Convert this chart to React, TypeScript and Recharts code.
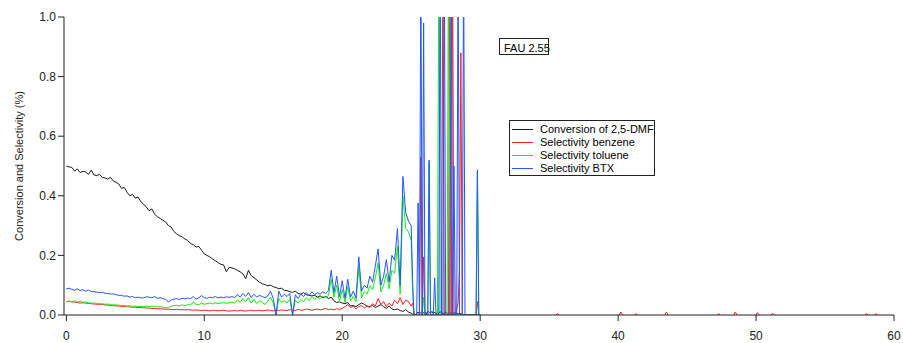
import { LineChart, Line, XAxis, YAxis } from 'recharts';

// sampling: every 0.2 up to 24.8, then every 0.1 from 25.0 to 30.0
const COARSE_STEP = 0.2;
const FINE_START = 25;
const FINE_STEP = 0.1;

const conversionCoarse = [
  0.500, 0.497, 0.495, 0.483, 0.490, 0.478, 0.482, 0.480, 0.472, 0.486,
  0.470, 0.468, 0.472, 0.462, 0.460, 0.456, 0.462, 0.450, 0.445, 0.440,
  0.425, 0.428, 0.412, 0.400, 0.405, 0.392, 0.396, 0.380, 0.372, 0.362,
  0.350, 0.356, 0.338, 0.330, 0.324, 0.318, 0.312, 0.300, 0.295, 0.280,
  0.272, 0.266, 0.262, 0.255, 0.250, 0.240, 0.236, 0.228, 0.230, 0.218,
  0.205, 0.200, 0.195, 0.188, 0.182, 0.176, 0.170, 0.168, 0.145, 0.160,
  0.158, 0.155, 0.150, 0.145, 0.138, 0.122, 0.150, 0.132, 0.125, 0.118,
  0.110, 0.105, 0.102, 0.098, 0.100, 0.095, 0.092, 0.088, 0.090, 0.083,
  0.082, 0.078, 0.076, 0.080, 0.072, 0.070, 0.075, 0.068, 0.066, 0.064,
  0.066, 0.060, 0.064, 0.058, 0.062, 0.055, 0.060, 0.048, 0.042, 0.044,
  0.040, 0.038, 0.042, 0.030, 0.032, 0.028, 0.035, 0.040, 0.036, 0.030,
  0.028, 0.032, 0.025, 0.030, 0.035, 0.028, 0.022, 0.030, 0.020, 0.018,
  0.020, 0.015, 0.012, 0.018, 0.010,
];
const conversionFine = [
  0.006, 0.003, 0.002, 0.000, 0.004, 0.010, 0.004, 0.008, 0.012, 0.006,
  0.010, 0.004, 0.014, 0.008, 0.006, 0.012, 0.005, 0.010, 0.004, 0.008,
  0.006, 0.012, 0.004, 0.008, 0.003, 0.010, 0.006, 0.004, 0.009, 0.005,
  0.008, 0.004, 0.010, 0.006, 0.003, 0.006, 0.004, 0.002, 0.000, 0.000,
  0, 0, 0, 0, 0, 0, 0, 0, 0, 0,
  0,
];

const benzeneCoarse = [
  0.045, 0.046, 0.044, 0.043, 0.042, 0.040, 0.041, 0.040, 0.039, 0.038,
  0.037, 0.036, 0.036, 0.035, 0.034, 0.033, 0.032, 0.031, 0.031, 0.030,
  0.029, 0.028, 0.028, 0.027, 0.026, 0.026, 0.025, 0.025, 0.024, 0.024,
  0.023, 0.022, 0.022, 0.021, 0.021, 0.020, 0.020, 0.019, 0.019, 0.018,
  0.019, 0.018, 0.018, 0.017, 0.018, 0.017, 0.016, 0.017, 0.016, 0.015,
  0.016, 0.015, 0.014, 0.016, 0.015, 0.014, 0.015, 0.016, 0.014, 0.013,
  0.014, 0.015, 0.013, 0.016, 0.014, 0.013, 0.015, 0.016, 0.014, 0.015,
  0.016, 0.014, 0.015, 0.017, 0.015, 0.014, 0.016, 0.015, 0.017, 0.016,
  0.015, 0.018, 0.016, 0.015, 0.019, 0.016, 0.017, 0.020, 0.018, 0.016,
  0.018, 0.020, 0.017, 0.019, 0.022, 0.018, 0.020, 0.017, 0.021, 0.019,
  0.022, 0.028, 0.035, 0.025, 0.030, 0.020, 0.028, 0.032, 0.024, 0.030,
  0.026, 0.038, 0.030, 0.055, 0.035, 0.045, 0.028, 0.040, 0.030, 0.050,
  0.038, 0.058, 0.035, 0.050, 0.045,
];
const benzeneFine = [
  0.030, 0.040, 0.010, 0.000, 0.000, 0.000, 0.000, 0.530, 0.000, 0.195,
  0.000, 0.000, 0.000, 0.000, 0.000, 0.000, 0.000, 0.000, 0.000, 0.000,
  0.000, 0.000, 0.000, 1.200, 0.000, 0.000, 0.000, 0.000, 1.200, 0.000,
  1.200, 0.000, 0.000, 0.020, 0.040, 0.150, 0.880, 0.000, 0.000, 0.000,
  0, 0, 0, 0, 0, 0, 0, 0, 0.045, 0,
  0,
];
// tiny benzene blips after the run has ended
const benzeneBlipTimes = [35.6, 40.2, 41.3, 43.5, 47.3, 48.5, 50.1, 51.2, 58.0, 58.7];
const benzeneBlipValues = [0.005, 0.010, 0.004, 0.010, 0.004, 0.010, 0.008, 0.006, 0.005, 0.004];

const tolueneCoarse = [
  0.044, 0.046, 0.045, 0.048, 0.043, 0.046, 0.042, 0.044, 0.041, 0.040,
  0.040, 0.039, 0.038, 0.038, 0.036, 0.037, 0.035, 0.034, 0.034, 0.033,
  0.032, 0.032, 0.030, 0.031, 0.029, 0.030, 0.028, 0.029, 0.028, 0.030,
  0.028, 0.030, 0.029, 0.027, 0.028, 0.026, 0.025, 0.024, 0.030, 0.031,
  0.032, 0.030, 0.034, 0.031, 0.035, 0.033, 0.044, 0.036, 0.034, 0.040,
  0.036, 0.038, 0.040, 0.037, 0.041, 0.038, 0.040, 0.042, 0.039, 0.041,
  0.043, 0.040, 0.050, 0.042, 0.055, 0.045, 0.058, 0.040, 0.052, 0.038,
  0.048, 0.042, 0.035, 0.046, 0.060, 0.040, 0.000, 0.055, 0.042, 0.048,
  0.040, 0.052, 0.000, 0.050, 0.040, 0.052, 0.045, 0.058, 0.048, 0.062,
  0.052, 0.060, 0.055, 0.062, 0.058, 0.065, 0.120, 0.060, 0.100, 0.045,
  0.085, 0.042, 0.095, 0.048, 0.062, 0.045, 0.160, 0.058, 0.078, 0.070,
  0.098, 0.085, 0.125, 0.175, 0.078, 0.100, 0.140, 0.088, 0.150, 0.140,
  0.230, 0.070, 0.400, 0.290, 0.280,
];
const tolueneFine = [
  0.250, 0.080, 0.000, 0.000, 0.000, 0.000, 0.000, 0.000, 0.000, 0.060,
  0.000, 0.000, 0.000, 0.510, 0.000, 0.000, 0.000, 0.000, 0.000, 0.000,
  1.200, 0.000, 0.000, 0.000, 0.000, 0.000, 0.000, 1.200, 0.000, 0.000,
  0, 0, 0, 0, 0, 0, 0, 0, 0, 0,
  0, 0, 0, 0, 0, 0, 0, 0, 0.480, 0,
  0,
];

const btxCoarse = [
  0.088, 0.090, 0.086, 0.083, 0.088, 0.082, 0.085, 0.080, 0.084, 0.079,
  0.078, 0.077, 0.075, 0.076, 0.073, 0.072, 0.070, 0.071, 0.068, 0.066,
  0.066, 0.063, 0.064, 0.060, 0.062, 0.058, 0.060, 0.057, 0.058, 0.061,
  0.060, 0.058, 0.062, 0.056, 0.058, 0.055, 0.052, 0.044, 0.050, 0.053,
  0.055, 0.052, 0.056, 0.054, 0.057, 0.055, 0.062, 0.053, 0.058, 0.065,
  0.058, 0.056, 0.060, 0.058, 0.062, 0.057, 0.060, 0.058, 0.061, 0.059,
  0.062, 0.058, 0.068, 0.060, 0.072, 0.062, 0.075, 0.058, 0.070, 0.060,
  0.066, 0.062, 0.058, 0.064, 0.080, 0.055, 0.000, 0.080, 0.060, 0.070,
  0.062, 0.072, 0.000, 0.068, 0.055, 0.070, 0.062, 0.075, 0.065, 0.078,
  0.068, 0.075, 0.070, 0.078, 0.072, 0.082, 0.150, 0.075, 0.130, 0.062,
  0.115, 0.056, 0.120, 0.060, 0.080, 0.056, 0.195, 0.080, 0.100, 0.090,
  0.130, 0.110, 0.165, 0.222, 0.100, 0.130, 0.186, 0.110, 0.200, 0.184,
  0.290, 0.100, 0.465, 0.345, 0.315,
];
const btxFine = [
  0.300, 0.120, 0.000, 0.000, 0.000, 0.376, 0.000, 1.200, 0.000, 0.980,
  0.000, 0.000, 0.000, 0.520, 0.000, 0.000, 0.000, 0.125, 0.000, 0.000,
  0.000, 1.200, 0.000, 0.000, 1.200, 0.000, 0.000, 0.000, 0.000, 1.200,
  0.000, 0.500, 0.000, 0.000, 1.200, 0.000, 0.000, 0.000, 1.200, 0.000,
  0, 0, 0, 0, 0, 0, 0, 0, 0.487, 0,
  0,
];

const xTicks = [0, 10, 20, 30, 40, 50, 60];
const yTicks = [0, 0.2, 0.4, 0.6, 0.8, 1.0];

const COLORS = {
  conversion: '#1a1a1a',
  benzene: '#ff1f1f',
  toluene: '#12ee12',
  btx: '#2255ff',
};

const legendItems = [
  { label: 'Conversion of 2,5-DMF', color: COLORS.conversion },
  { label: 'Selectivity benzene', color: COLORS.benzene },
  { label: 'Selectivity toluene', color: COLORS.toluene },
  { label: 'Selectivity BTX', color: COLORS.btx },
];

type Row = {
  t: number;
  conversion?: number | null;
  benzene?: number | null;
  toluene?: number | null;
  btx?: number | null;
};

function buildRows(): Row[] {
  const rows: Row[] = [];
  conversionCoarse.forEach((v, i) => {
    rows.push({
      t: +(i * COARSE_STEP).toFixed(2),
      conversion: v,
      benzene: benzeneCoarse[i],
      toluene: tolueneCoarse[i],
      btx: btxCoarse[i],
    });
  });
  conversionFine.forEach((v, i) => {
    rows.push({
      t: +(FINE_START + i * FINE_STEP).toFixed(2),
      conversion: v,
      benzene: benzeneFine[i],
      toluene: tolueneFine[i],
      btx: btxFine[i],
    });
  });
  benzeneBlipTimes.forEach((bt, i) => {
    rows.push({ t: bt - 0.3, benzene: null });
    rows.push({ t: bt - 0.12, benzene: 0 });
    rows.push({ t: bt, benzene: benzeneBlipValues[i] });
    rows.push({ t: bt + 0.12, benzene: 0 });
  });
  return rows;
}

const data = buildRows();

const tickStyle = { fill: '#222', fontSize: 12, fontFamily: '"Liberation Sans", Arial, sans-serif' };

export default function App() {
  return (
    <div style={{ position: 'absolute', left: 0, top: 0, width: 903, height: 343, background: '#fff' }}>
      <LineChart
        width={903}
        height={343}
        data={data}
        margin={{ top: 17, right: 9, left: 0, bottom: 0 }}
      >
        <XAxis
          dataKey="t"
          type="number"
          domain={[-0.17, 60]}
          allowDataOverflow
          ticks={xTicks}
          tick={tickStyle}
          tickSize={6}
          tickMargin={10}
          height={28}
          axisLine={{ stroke: '#222' }}
          tickLine={{ stroke: '#222' }}
        />
        <YAxis
          type="number"
          domain={[0, 1]}
          allowDataOverflow
          ticks={yTicks}
          tick={tickStyle}
          tickFormatter={(v: number) => v.toFixed(1)}
          tickSize={6}
          tickMargin={2}
          width={64}
          axisLine={{ stroke: '#222' }}
          tickLine={{ stroke: '#222' }}
        />
        <Line dataKey="conversion" stroke={COLORS.conversion} strokeWidth={1} dot={false} isAnimationActive={false} />
        <Line dataKey="benzene" stroke={COLORS.benzene} strokeWidth={1} dot={false} isAnimationActive={false} />
        <Line dataKey="toluene" stroke={COLORS.toluene} strokeWidth={1} dot={false} isAnimationActive={false} />
        <Line dataKey="btx" stroke={COLORS.btx} strokeWidth={1} dot={false} isAnimationActive={false} />
      </LineChart>

      {/* y axis title */}
      <svg width={40} height={343} style={{ position: 'absolute', left: 0, top: 0 }}>
        <text
          x={18.5}
          y={166}
          transform="rotate(-90, 18.5, 166)"
          textAnchor="middle"
          dominantBaseline="central"
          fontSize={11}
          fontFamily='"Liberation Sans", Arial, sans-serif'
          fill="#222"
        >
          Conversion and Selectivity (%)
        </text>
      </svg>

      {/* sample tag */}
      <div
        style={{
          position: 'absolute',
          left: 499,
          top: 38,
          width: 50,
          height: 17,
          boxSizing: 'border-box',
          border: '1px solid #222',
          paddingLeft: 4,
          paddingTop: 3,
          fontSize: 11,
          lineHeight: '12px',
          fontFamily: '"Liberation Sans", Arial, sans-serif',
          whiteSpace: 'nowrap',
          color: '#000',
        }}
      >
        FAU 2.55
      </div>

      {/* legend */}
      <div
        style={{
          position: 'absolute',
          left: 509,
          top: 120,
          width: 146,
          height: 56,
          boxSizing: 'border-box',
          border: '1px solid #222',
          background: '#fff',
          paddingTop: 2,
          fontSize: 11,
          lineHeight: '13px',
          fontFamily: '"Liberation Sans", Arial, sans-serif',
          color: '#000',
          whiteSpace: 'nowrap',
        }}
      >
        {legendItems.map((item) => (
          <div key={item.label} style={{ display: 'flex', alignItems: 'center', height: 13 }}>
            <span
              style={{
                display: 'inline-block',
                marginLeft: 2,
                width: 21,
                height: 0,
                borderTop: `1px solid ${item.color}`,
              }}
            />
            <span style={{ marginLeft: 7 }}>{item.label}</span>
          </div>
        ))}
      </div>
    </div>
  );
}
